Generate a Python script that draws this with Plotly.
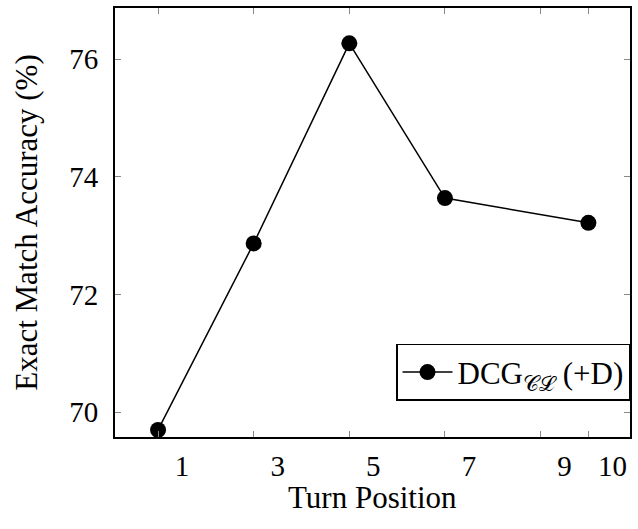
import plotly.graph_objects as go

turn_positions = [1, 3, 5, 7, 10]
accuracy = [69.70, 72.87, 76.27, 73.64, 73.22]
x_ticks = [1, 3, 5, 7, 9, 10]
x_tick_labels = ["1", "3", "5", "7", "9", "10"]
y_ticks = [70, 72, 74, 76]
series_name = "DCG<sub>𝒞ℒ</sub> (+D)"
x_title = "Turn Position"
y_title = "Exact Match Accuracy (%)"

FONT = "Liberation Serif, Times New Roman, serif"
FS = 31
TFS = 29

fig = go.Figure()
fig.add_trace(go.Scatter(
    x=turn_positions, y=accuracy, mode="lines+markers", name=series_name,
    line=dict(color="black", width=1.5),
    marker=dict(color="black", size=16),
))

axis_common = dict(
    showgrid=False, zeroline=False, showline=True, linecolor="black", linewidth=2,
    mirror="allticks", ticks="inside", ticklen=6, tickcolor="#888888", tickwidth=1,
    tickfont=dict(family=FONT, size=TFS, color="black"),
)

fig.update_layout(
    width=638, height=529,
    margin=dict(l=115, r=6, t=7, b=92),
    paper_bgcolor="white", plot_bgcolor="white",
    font=dict(family=FONT, size=FS, color="black"),
    showlegend=True,
    legend=dict(
        x=1, xanchor="right", y=0.084, yanchor="bottom",
        bordercolor="black", borderwidth=1.5, bgcolor="white",
        font=dict(family=FONT, size=FS, color="black"),
        itemwidth=50,
    ),
    xaxis=dict(
        range=[0.1, 10.87], tickvals=x_ticks, ticktext=x_tick_labels,
        ticklabelshift=24, ticklabelstandoff=2,
        **axis_common,
    ),
    yaxis=dict(
        range=[69.58, 76.87], tickvals=y_ticks,
        ticklabelstandoff=9,
        title=dict(text=y_title, font=dict(family=FONT, size=FS), standoff=22),
        **axis_common,
    ),
    annotations=[dict(
        text=x_title, xref="paper", yref="paper", x=0.5, y=-0.142,
        xanchor="center", yanchor="middle", showarrow=False,
        font=dict(family=FONT, size=FS, color="black"),
    )],
)

fig.write_html("out.html")
